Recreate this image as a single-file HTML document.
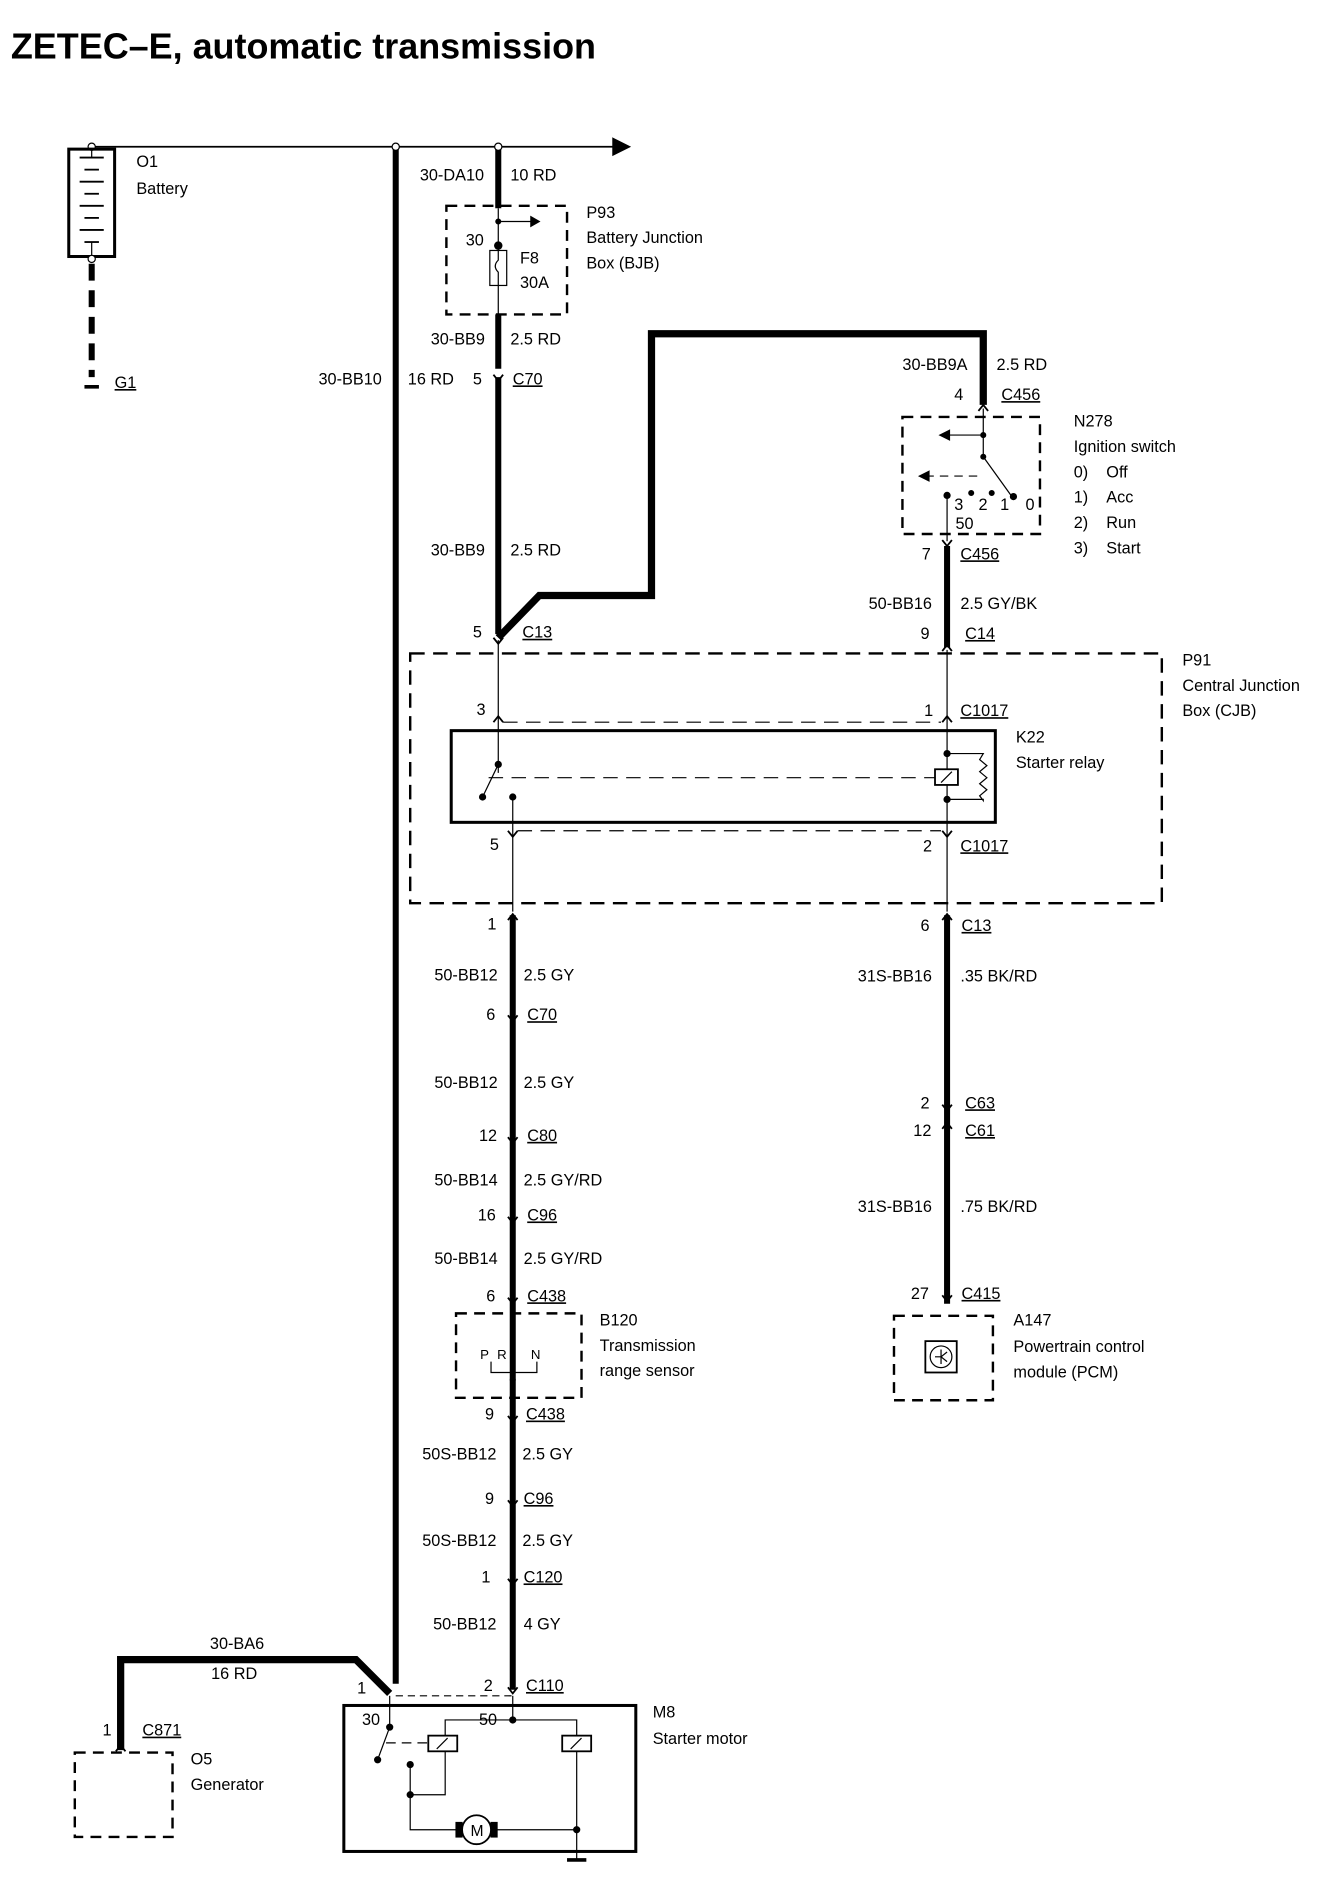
<!DOCTYPE html>
<html><head><meta charset="utf-8"><style>
html,body{margin:0;padding:0;background:#fff;}
svg{display:block}
text{font-family:"Liberation Sans",sans-serif;font-size:13.5px;fill:#000}
.t{font-size:29.8px;font-weight:bold}
.u{text-decoration:underline}
</style></head><body>
<svg width="1344" height="1892" viewBox="0 0 1114 1567" xmlns="http://www.w3.org/2000/svg">
<defs>
<g id="cd"><path d="M-4,-5 L0,0 L4,-5" fill="none" stroke="#000" stroke-width="1.5"/></g>
<g id="cu"><path d="M-4,4 L0,-1 L4,4" fill="none" stroke="#000" stroke-width="1.5"/></g>
</defs>
<text x="9" y="48" class="t">ZETEC–E, automatic transmission</text>
<g stroke="#000" fill="none">
<line x1="76" y1="121" x2="510" y2="121" stroke-width="1.5"/>
<polygon points="508,114 522,121 508,128" fill="#000"/>
<circle cx="76" cy="121" r="3" fill="#fff"/>
<rect x="57" y="123" width="38" height="89" stroke-width="2.5"/>
<line x1="76" y1="124" x2="76" y2="130"/>
<g stroke-width="1.5"><line x1="66" y1="130" x2="86" y2="130"/><line x1="70" y1="140" x2="82" y2="140"/><line x1="66" y1="150" x2="86" y2="150"/><line x1="70" y1="160" x2="82" y2="160"/><line x1="66" y1="170" x2="86" y2="170"/><line x1="70" y1="180" x2="82" y2="180"/><line x1="66" y1="190" x2="86" y2="190"/><line x1="70" y1="200" x2="82" y2="200"/></g>
<line x1="76" y1="200" x2="76" y2="212"/>
<circle cx="76" cy="214" r="3" fill="#fff"/>
<line x1="76" y1="218" x2="76" y2="312" stroke-width="5" stroke-dasharray="14,8"/>
<line x1="70" y1="320" x2="82" y2="320" stroke-width="3"/>
<line x1="328" y1="121" x2="328" y2="1395" stroke-width="5"/>
<circle cx="328" cy="121" r="3" fill="#fff"/>
<line x1="413" y1="121" x2="413" y2="172" stroke-width="5"/>
<circle cx="413" cy="121" r="3" fill="#fff"/>
<rect x="370" y="170" width="100" height="90" stroke-width="2" stroke-dasharray="9,6"/>
<line x1="413" y1="172" x2="413" y2="262"/>
<line x1="413" y1="183" x2="440" y2="183"/><polygon points="440,179 447,183 440,187" fill="#000"/>
<circle cx="413" cy="183" r="2" fill="#000"/><circle cx="413" cy="203" r="3" fill="#000"/>
<rect x="406" y="207" width="14" height="29" fill="#fff"/>
<path d="M413,207 v8 q-5,5 0,10 v11"/>
<line x1="413" y1="260" x2="413" y2="305" stroke-width="5"/>
<line x1="413" y1="312" x2="413" y2="525" stroke-width="5"/>
<path d="M413,528 L447,493 L540,493 L540,276 L815,276 L815,335" stroke-width="6"/>
<rect x="748" y="345" width="114" height="97" stroke-width="2" stroke-dasharray="9,6"/>
<line x1="815" y1="338" x2="815" y2="360"/>
<line x1="785" y1="360" x2="815" y2="360"/><polygon points="787,356 779,360 787,364" fill="#000"/>
<circle cx="815" cy="360" r="2" fill="#000"/><circle cx="815" cy="378" r="2" fill="#000"/>
<line x1="815" y1="360" x2="815" y2="378"/><line x1="815" y1="378" x2="838" y2="410"/>
<line x1="767" y1="394" x2="812" y2="394" stroke-dasharray="7,5"/><polygon points="770,390 762,394 770,398" fill="#000"/>
<circle cx="785" cy="410" r="2.5" fill="#000"/><circle cx="805" cy="408" r="2" fill="#000"/><circle cx="822" cy="408" r="2" fill="#000"/><circle cx="840" cy="411" r="2.5" fill="#000"/>
<line x1="785" y1="410" x2="785" y2="448"/>
<line x1="785" y1="452" x2="785" y2="536" stroke-width="5"/>
<rect x="340" y="541" width="623" height="207" stroke-width="2" stroke-dasharray="12,7"/>
<line x1="413" y1="530" x2="413" y2="640"/>
<line x1="785" y1="538" x2="785" y2="755"/>
<line x1="417" y1="598" x2="780" y2="598" stroke-dasharray="12,7"/>
<line x1="429" y1="688" x2="780" y2="688" stroke-dasharray="12,7"/>
<rect x="374" y="605" width="451" height="76" stroke-width="2.5"/>
<circle cx="413" cy="633" r="2.5" fill="#000"/><line x1="413" y1="633" x2="400" y2="660"/><circle cx="400" cy="660" r="2.5" fill="#000"/>
<line x1="405" y1="644" x2="775" y2="644" stroke-dasharray="12,7"/>
<circle cx="425" cy="660" r="2.5" fill="#000"/><line x1="425" y1="660" x2="425" y2="755"/>
<rect x="775" y="637" width="19" height="13" fill="#fff" stroke-width="1.5"/><line x1="780" y1="648" x2="789" y2="639"/>
<circle cx="785" cy="624" r="2.5" fill="#000"/><circle cx="785" cy="662" r="2.5" fill="#000"/>
<path d="M785,624 H815 l-3,5 6,5 -6,5 6,5 -6,5 6,5 -6,5 3,4 V662 H785"/>
<line x1="425" y1="758" x2="425" y2="1400" stroke-width="5"/>
<rect x="378" y="1088" width="104" height="70" stroke-width="2" stroke-dasharray="9,6"/>
<line x1="425" y1="1088" x2="425" y2="1158"/>
<path d="M407,1128 V1137 H445 V1128 M425,1120 V1143"/>
<circle cx="425" cy="1143" r="2" fill="#000"/>
<line x1="785" y1="758" x2="785" y2="1080" stroke-width="5"/>
<rect x="741" y="1090" width="82" height="70" stroke-width="2" stroke-dasharray="9,6"/>
<rect x="767" y="1111" width="26" height="26" stroke-width="1.5"/><circle cx="780" cy="1124" r="9"/>
<path d="M775,1124 h6 M780,1118 v12 M780,1124 l5,-4 M780,1124 l5,4"/>
<path d="M100,1450 V1375 H295 L323,1403" stroke-width="6"/>
<rect x="62" y="1452" width="81" height="70" stroke-width="2" stroke-dasharray="9,6"/>
<rect x="285" y="1413" width="242" height="121" stroke-width="2.5"/>
<line x1="328" y1="1405" x2="425" y2="1405" stroke-dasharray="6,4"/>
<line x1="323" y1="1405" x2="323" y2="1430"/>
<circle cx="323" cy="1431" r="2.5" fill="#000"/><line x1="323" y1="1431" x2="313" y2="1458"/><circle cx="313" cy="1458" r="2.5" fill="#000"/>
<line x1="320" y1="1444" x2="355" y2="1444" stroke-dasharray="8,5"/>
<rect x="355" y="1438" width="24" height="13" fill="#fff" stroke-width="1.5"/><line x1="362" y1="1449" x2="371" y2="1440"/>
<line x1="425" y1="1405" x2="425" y2="1425"/>
<path d="M369,1438 V1425 H478 V1438"/>
<circle cx="425" cy="1425" r="2.5" fill="#000"/>
<rect x="466" y="1438" width="24" height="13" fill="#fff" stroke-width="1.5"/><line x1="473" y1="1449" x2="482" y2="1440"/>
<path d="M369,1451 V1487 H340 M340,1462 V1516 H383"/>
<circle cx="340" cy="1462" r="2.5" fill="#000"/><circle cx="340" cy="1487" r="2.5" fill="#000"/>
<circle cx="395" cy="1516" r="12" fill="#fff" stroke-width="1.5"/>
<rect x="378" y="1510" width="5" height="12" fill="#000"/><rect x="407" y="1510" width="5" height="12" fill="#000"/>
<path d="M412,1516 H478 M478,1451 V1540"/><circle cx="478" cy="1516" r="2.5" fill="#000"/>
<line x1="470" y1="1541" x2="486" y2="1541" stroke-width="3"/>
</g>
<text x="390" y="1521" style="font-size:13px">M</text>
<use href="#cd" x="413" y="315"/><use href="#cu" x="815" y="336"/><use href="#cd" x="785" y="452"/>
<use href="#cd" x="413" y="533"/><use href="#cu" x="785" y="535"/>
<use href="#cu" x="413" y="594"/><use href="#cu" x="785" y="594"/>
<use href="#cd" x="425" y="693"/><use href="#cd" x="785" y="693"/>
<use href="#cu" x="425" y="758"/><use href="#cu" x="785" y="758"/>
<use href="#cd" x="425" y="846"/><use href="#cd" x="425" y="947"/><use href="#cd" x="425" y="1013"/><use href="#cd" x="425" y="1080"/>
<use href="#cd" x="425" y="1178"/><use href="#cd" x="425" y="1248"/><use href="#cd" x="425" y="1313"/><use href="#cd" x="425" y="1403"/>
<use href="#cd" x="785" y="920"/><use href="#cu" x="785" y="931"/><use href="#cd" x="785" y="1078"/><use href="#cu" x="100" y="1447"/>
<text x="113" y="138">O1</text><text x="113" y="160">Battery</text><text x="95" y="321" class="u">G1</text>
<text x="348" y="149">30-DA10</text><text x="423" y="149">10 RD</text>
<text x="486" y="180">P93</text><text x="486" y="201">Battery Junction</text><text x="486" y="222">Box (BJB)</text>
<text x="386" y="203">30</text><text x="431" y="218">F8</text><text x="431" y="238">30A</text>
<text x="357" y="285">30-BB9</text><text x="423" y="285">2.5 RD</text>
<text x="264" y="318">30-BB10</text><text x="338" y="318">16 RD</text><text x="392" y="318">5</text><text x="425" y="318" class="u">C70</text>
<text x="748" y="306">30-BB9A</text><text x="826" y="306">2.5 RD</text>
<text x="791" y="331">4</text><text x="830" y="331" class="u">C456</text>
<text x="890" y="353">N278</text><text x="890" y="374">Ignition switch</text>
<text x="890" y="395">0)&#160;&#160;&#160;&#160;Off</text><text x="890" y="416">1)&#160;&#160;&#160;&#160;Acc</text><text x="890" y="437">2)&#160;&#160;&#160;&#160;Run</text><text x="890" y="458">3)&#160;&#160;&#160;&#160;Start</text>
<text x="791" y="422">3</text><text x="811" y="422">2</text><text x="829" y="422">1</text><text x="850" y="422">0</text><text x="792" y="438">50</text>
<text x="357" y="460">30-BB9</text><text x="423" y="460">2.5 RD</text>
<text x="764" y="463">7</text><text x="796" y="463" class="u">C456</text>
<text x="720" y="504">50-BB16</text><text x="796" y="504">2.5 GY/BK</text>
<text x="392" y="528">5</text><text x="433" y="528" class="u">C13</text>
<text x="763" y="529">9</text><text x="800" y="529" class="u">C14</text>
<text x="980" y="551">P91</text><text x="980" y="572">Central Junction</text><text x="980" y="593">Box (CJB)</text>
<text x="395" y="592">3</text><text x="766" y="593">1</text><text x="796" y="593" class="u">C1017</text>
<text x="842" y="615">K22</text><text x="842" y="636">Starter relay</text>
<text x="406" y="704">5</text><text x="765" y="705">2</text><text x="796" y="705" class="u">C1017</text>
<text x="404" y="770">1</text><text x="763" y="771">6</text><text x="797" y="771" class="u">C13</text>
<text x="360" y="812">50-BB12</text><text x="434" y="812">2.5 GY</text>
<text x="711" y="813">31S-BB16</text><text x="796" y="813">.35 BK/RD</text>
<text x="403" y="845">6</text><text x="437" y="845" class="u">C70</text>
<text x="360" y="901">50-BB12</text><text x="434" y="901">2.5 GY</text>
<text x="763" y="918">2</text><text x="800" y="918" class="u">C63</text>
<text x="757" y="941">12</text><text x="800" y="941" class="u">C61</text>
<text x="397" y="945">12</text><text x="437" y="945" class="u">C80</text>
<text x="360" y="982">50-BB14</text><text x="434" y="982">2.5 GY/RD</text>
<text x="711" y="1004">31S-BB16</text><text x="796" y="1004">.75 BK/RD</text>
<text x="396" y="1011">16</text><text x="437" y="1011" class="u">C96</text>
<text x="360" y="1047">50-BB14</text><text x="434" y="1047">2.5 GY/RD</text>
<text x="755" y="1076">27</text><text x="797" y="1076" class="u">C415</text>
<text x="403" y="1078">6</text><text x="437" y="1078" class="u">C438</text>
<text x="497" y="1098">B120</text><text x="497" y="1119">Transmission</text><text x="497" y="1140">range sensor</text>
<text x="840" y="1098">A147</text><text x="840" y="1120">Powertrain control</text><text x="840" y="1141">module (PCM)</text>
<text x="398" y="1126" style="font-size:11px">P</text><text x="412" y="1126" style="font-size:11px">R</text><text x="440" y="1126" style="font-size:11px">N</text>
<text x="402" y="1176">9</text><text x="436" y="1176" class="u">C438</text>
<text x="350" y="1209">50S-BB12</text><text x="433" y="1209">2.5 GY</text>
<text x="402" y="1246">9</text><text x="434" y="1246" class="u">C96</text>
<text x="350" y="1281">50S-BB12</text><text x="433" y="1281">2.5 GY</text>
<text x="399" y="1311">1</text><text x="434" y="1311" class="u">C120</text>
<text x="359" y="1350">50-BB12</text><text x="434" y="1350">4 GY</text>
<text x="174" y="1366">30-BA6</text><text x="175" y="1391">16 RD</text>
<text x="296" y="1403">1</text><text x="401" y="1401">2</text><text x="436" y="1401" class="u">C110</text>
<text x="541" y="1423">M8</text><text x="541" y="1445">Starter motor</text>
<text x="300" y="1429">30</text><text x="397" y="1429">50</text>
<text x="85" y="1438">1</text><text x="118" y="1438" class="u">C871</text>
<text x="158" y="1462">O5</text><text x="158" y="1483">Generator</text>
</svg>
</body></html>
